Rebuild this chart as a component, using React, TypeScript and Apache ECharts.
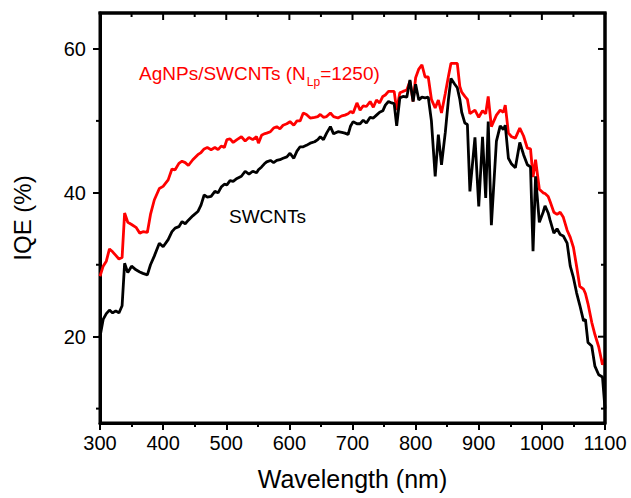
import React, { useEffect, useRef } from 'react';
import * as echarts from 'echarts';

// Wavelength grid (nm)
const wavelengths = [
  300, 305, 310, 315, 320, 325, 330, 335, 339, 344, 350, 357, 363, 368, 375, 380, 386, 394, 400, 408,
  414, 419, 425, 430, 435, 440, 447, 455, 460, 465, 470, 476, 482, 487, 492, 497, 501, 506, 511, 517,
  524, 530, 536, 542, 548, 551, 556, 560, 564, 570, 575, 580, 585, 590, 596, 601, 607, 612, 617, 622,
  627, 633, 640, 645, 649, 654, 659, 665, 670, 677, 683, 688, 693, 697, 701, 707, 712, 717, 722, 728,
  733, 738, 743, 748, 752, 757, 762, 766, 770, 775, 780, 786, 791, 796, 800, 805, 810, 815, 820, 825,
  831, 836, 841, 847, 852, 856, 862, 866, 870, 873, 878, 882, 886, 894, 900, 906, 911, 915, 920, 928,
  934, 939, 942, 947, 952, 958, 965, 971, 977, 982, 986, 990, 996, 1002, 1005, 1010, 1013, 1019, 1024, 1029,
  1034, 1040, 1045, 1050, 1055, 1060, 1066, 1069, 1073, 1079, 1084, 1090, 1096, 1100,
];

// IQE (%) of AgNPs/SWCNTs (N_Lp = 1250) — red curve
const iqeAgNPs = [
  28.4, 29.8, 30.5, 32.2, 31.8, 31.3, 30.8, 31.0, 37.2, 35.9, 35.6, 35.2, 34.4, 34.6, 34.5, 37.0, 39.0, 40.6, 40.9, 41.8,
  43.3, 43.2, 44.1, 44.4, 44.2, 43.8, 44.6, 45.3, 45.6, 46.1, 46.3, 46.0, 46.3, 46.0, 46.5, 46.3, 47.4, 47.5, 47.0, 47.4,
  47.8, 47.2, 47.7, 47.4, 47.8, 46.9, 48.0, 48.2, 48.3, 48.5, 49.0, 49.2, 48.9, 49.4, 49.6, 49.9, 49.4, 50.0, 50.0, 51.1,
  50.9, 50.4, 50.5, 50.6, 50.9, 50.5, 50.6, 51.1, 50.6, 50.4, 50.7, 50.8, 51.0, 51.3, 51.1, 52.5, 51.5, 52.1, 52.0, 52.7,
  51.9, 52.9, 52.5, 53.4, 53.6, 54.1, 54.1, 54.1, 51.5, 53.9, 54.1, 54.3, 55.5, 52.7, 56.0, 57.2, 57.8, 56.1, 56.1, 53.0,
  51.8, 52.9, 51.1, 53.8, 56.2, 58.0, 58.0, 58.0, 54.8, 54.0, 53.4, 53.0, 51.0, 51.5, 50.5, 51.4, 51.0, 53.4, 49.2, 50.8,
  51.5, 51.2, 52.2, 48.3, 47.8, 47.6, 49.0, 47.9, 46.2, 46.1, 42.2, 44.6, 40.5, 40.0, 39.9, 39.5, 38.8, 37.3, 37.0, 37.3,
  36.6, 34.8, 33.8, 32.4, 29.8, 27.0, 26.6, 26.0, 24.6, 22.0, 20.3, 18.6, 16.1, 17.0,
];

// IQE (%) of SWCNTs — black curve
const iqeSWCNTs = [
  20.0, 22.4, 23.2, 23.7, 23.3, 23.6, 23.3, 24.3, 30.2, 28.9, 29.8, 29.3, 29.0, 28.8, 28.6, 30.0, 31.2, 33.0, 32.5, 33.5,
  34.6, 35.1, 35.3, 36.0, 35.7, 36.2, 36.8, 37.4, 38.3, 39.7, 39.4, 39.5, 40.2, 40.0, 40.8, 41.2, 41.1, 41.7, 41.6, 42.0,
  42.3, 43.0, 42.6, 43.0, 42.8, 43.2, 43.6, 44.0, 44.3, 44.5, 44.2, 44.5, 44.6, 44.8, 45.0, 45.5, 44.8, 45.8, 46.4, 46.4,
  46.6, 46.9, 47.1, 47.4, 47.8, 47.4, 48.3, 49.2, 48.2, 48.5, 48.4, 48.3, 48.1, 49.3, 49.9, 49.6, 49.6, 50.1, 49.7, 50.5,
  50.4, 50.8, 51.2, 51.4, 52.2, 52.7, 52.5, 52.4, 49.3, 53.2, 53.4, 53.3, 55.7, 52.7, 55.1, 52.9, 53.3, 53.2, 53.3, 50.0,
  42.3, 48.1, 43.9, 48.4, 53.0, 55.9, 55.1, 54.6, 53.0, 51.2, 49.7, 49.5, 40.2, 47.7, 38.1, 47.8, 39.3, 49.9, 35.5, 47.2,
  49.3, 48.8, 49.4, 44.8, 44.0, 43.5, 47.0, 45.3, 43.9, 43.6, 31.9, 42.3, 35.9, 37.3, 38.2, 37.2, 36.2, 34.4, 35.0, 34.2,
  34.0, 33.0, 29.8, 28.2, 26.1, 24.4, 22.2, 22.4, 19.2, 18.7, 15.9, 14.7, 14.4, 10.0,
];

const xTickValues = [300, 400, 500, 600, 700, 800, 900, 1000, 1100];
const xMinorValues = [350, 450, 550, 650, 750, 850, 950, 1050];
const yTickValues = [20, 40, 60];
const yMinorValues = [10, 30, 50];

export default function App() {
  const ref = useRef<HTMLDivElement>(null);

  useEffect(() => {
    document.body.style.margin = '0';
    const chart = echarts.init(ref.current as HTMLDivElement, null, { renderer: 'svg' });
    const font = "'Liberation Sans', Arial, Helvetica, sans-serif";
    const black = '#000000';
    const red = '#ff0000';

    const axisLine = () => ({ show: true, onZero: false, lineStyle: { color: black, width: 3 } });
    const tickStyle = () => ({ color: black, width: 2 });

    // Frame on the top and right edges, mirrored ticks, and left minor ticks,
    // all placed through the axes' own scales
    const frameTicks = {
      type: 'custom',
      xAxisIndex: 0,
      yAxisIndex: 0,
      silent: true,
      clip: false,
      z: 5,
      data: [[700, 30]],
      renderItem: (params: any, api: any) => {
        const children: any[] = [];
        const [left, top] = api.coord([300, 65]);
        const [right, bottom] = api.coord([1100, 8]);
        children.push({ type: 'line', shape: { x1: left - 1.5, y1: top, x2: right + 1.5, y2: top }, style: { stroke: black, lineWidth: 3 } });
        children.push({ type: 'line', shape: { x1: right, y1: top, x2: right, y2: bottom }, style: { stroke: black, lineWidth: 3 } });
        xTickValues.forEach((v) => {
          const x = api.coord([v, 65])[0];
          children.push({ type: 'line', shape: { x1: x, y1: top, x2: x, y2: top + 7 }, style: { stroke: black, lineWidth: 2 } });
        });
        xMinorValues.forEach((v) => {
          const x = api.coord([v, 65])[0];
          children.push({ type: 'line', shape: { x1: x, y1: top, x2: x, y2: top + 4 }, style: { stroke: black, lineWidth: 2 } });
        });
        yTickValues.forEach((v) => {
          const y = api.coord([1100, v])[1];
          children.push({ type: 'line', shape: { x1: right, y1: y, x2: right - 7, y2: y }, style: { stroke: black, lineWidth: 2 } });
        });
        yMinorValues.forEach((v) => {
          const y = api.coord([1100, v])[1];
          children.push({ type: 'line', shape: { x1: right, y1: y, x2: right - 4, y2: y }, style: { stroke: black, lineWidth: 2 } });
          const yl = api.coord([300, v])[1];
          children.push({ type: 'line', shape: { x1: left, y1: yl, x2: left - 4, y2: yl }, style: { stroke: black, lineWidth: 2 } });
        });
        return { type: 'group', children };
      },
    };

    const option: any = {
      animation: false,
      backgroundColor: '#ffffff',
      grid: {
        left: 100,
        right: 26,
        top: 13,
        bottom: 75,
        show: true,
        borderColor: black,
        borderWidth: 3,
        backgroundColor: 'transparent',
      },
      xAxis: {
        type: 'value',
        min: 300,
        max: 1100,
        interval: 100,
        position: 'bottom',
        splitLine: { show: false },
        axisLine: axisLine(),
        minorTick: { show: true, splitNumber: 2, length: 4, lineStyle: tickStyle() },
        minorSplitLine: { show: false },
        name: 'Wavelength (nm)',
        nameLocation: 'middle',
        nameGap: 43,
        nameTextStyle: { fontFamily: font, fontSize: 25, color: black },
        axisTick: { show: true, inside: false, length: 7, lineStyle: tickStyle() },
        axisLabel: {
          show: true,
          fontFamily: font,
          fontSize: 20,
          color: black,
          margin: 10,
          formatter: (v: number) => String(v),
        },
      },
      yAxis: {
        type: 'value',
        min: 8,
        max: 65,
        position: 'left',
        splitLine: { show: false },
        axisLine: axisLine(),
        name: 'IQE (%)',
        nameLocation: 'middle',
        nameGap: 66,
        nameTextStyle: { fontFamily: font, fontSize: 24, color: black },
        axisTick: { show: true, inside: false, length: 7, lineStyle: tickStyle(), customValues: yTickValues },
        axisLabel: {
          show: true,
          fontFamily: font,
          fontSize: 20,
          color: black,
          margin: 14,
          customValues: yTickValues,
          formatter: (v: number) => String(v),
        },
      },
      series: [
        {
          name: 'AgNPs/SWCNTs',
          type: 'line',
          showSymbol: false,
          symbol: 'none',
          lineStyle: { color: red, width: 2.8 },
          data: wavelengths.map((w, i) => [w, iqeAgNPs[i]]),
        },
        {
          name: 'SWCNTs',
          type: 'line',
          showSymbol: false,
          symbol: 'none',
          lineStyle: { color: black, width: 2.8 },
          data: wavelengths.map((w, i) => [w, iqeSWCNTs[i]]),
        },
        frameTicks,
      ],
      graphic: [
        {
          type: 'text',
          left: 139,
          top: 64,
          style: {
            text: '{a|AgNPs/SWCNTs (N}{s|Lp}{a|=1250)}',
            fill: red,
            rich: {
              a: { fontFamily: font, fontSize: 19, lineHeight: 19, fill: red, verticalAlign: 'top' },
              s: { fontFamily: font, fontSize: 12, lineHeight: 12, fill: red, verticalAlign: 'top', padding: [12, 0, 0, 1] },
            },
          },
        },
        {
          type: 'text',
          left: 229,
          top: 207,
          style: {
            text: 'SWCNTs',
            fill: black,
            fontFamily: font,
            fontSize: 19,
          },
        },
      ],
    };

    chart.setOption(option);
    return () => {
      chart.dispose();
    };
  }, []);

  return <div ref={ref} style={{ position: 'absolute', left: 0, top: 0, width: 631, height: 498 }} />;
}
